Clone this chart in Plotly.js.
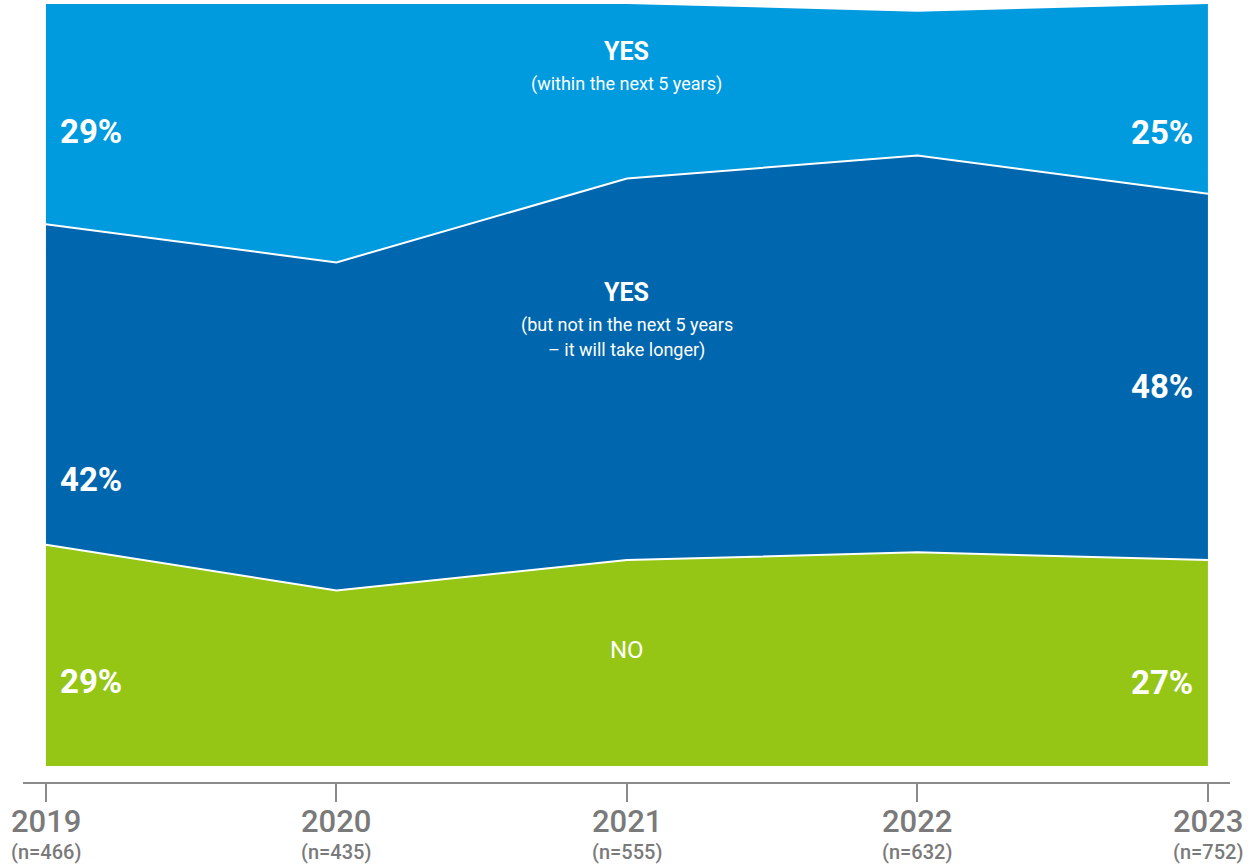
<!DOCTYPE html>
<html>
<head>
<meta charset="utf-8">
<script src="https://cdn.plot.ly/plotly-3.0.1.min.js"></script>
<style>
  html, body { margin: 0; padding: 0; background: #fff; }
  #chart { width: 1253px; height: 864px; }
</style>
</head>
<body>
<div id="chart"></div>
<script>
// ---- data ----
const years = [2019, 2020, 2021, 2022, 2023];
const sampleSizes = ['(n=466)', '(n=435)', '(n=555)', '(n=632)', '(n=752)'];
const noValues = [29, 23, 27, 28, 27];
const yesLaterValues = [42, 43, 50, 52, 48];
const yesSoonValues = [29, 34, 23, 19, 25];

const seriesNames = ['NO', 'YES (but not in the next 5 years – it will take longer)', 'YES (within the next 5 years)'];
const seriesColors = ['#95C616', '#0066AD', '#009ADE'];

// ---- traces ----
const allValues = [noValues, yesLaterValues, yesSoonValues];
const traces = allValues.map((vals, i) => ({
  x: years,
  y: vals,
  name: seriesNames[i],
  type: 'scatter',
  mode: 'lines',
  stackgroup: 'one',
  line: { color: '#ffffff', width: 2, shape: 'linear' },
  fillcolor: seriesColors[i],
  hoverinfo: 'x+y+name'
}));

// ---- annotations ----
const font = 'Roboto, "Open Sans", Arial, sans-serif';
const annotations = [];

// x-axis labels (year + sample size)
years.forEach((yr, i) => {
  annotations.push({ x: yr, y: -0.0513, xref: 'x', yref: 'paper', text: String(yr), showarrow: false,
    font: { family: font, size: 31, color: '#7a7a7a', weight: 500 }, xanchor: 'center', yanchor: 'middle' });
  annotations.push({ x: yr, y: -0.0899, xref: 'x', yref: 'paper', text: sampleSizes[i], showarrow: false,
    font: { family: font, size: 20, color: '#7a7a7a', weight: 500 }, xanchor: 'center', yanchor: 'middle' });
});

// series labels
const white = '#ffffff';
annotations.push({ x: 2021, y: 93.7, xref: 'x', yref: 'y', text: '<b>YES</b>', showarrow: false,
  font: { family: font, size: 25, color: white } });
annotations.push({ x: 2021, y: 89.4, xref: 'x', yref: 'y', text: '(within the next 5 years)', showarrow: false,
  font: { family: font, size: 18, color: white } });
annotations.push({ x: 2021, y: 62.1, xref: 'x', yref: 'y', text: '<b>YES</b>', showarrow: false,
  font: { family: font, size: 25, color: white } });
annotations.push({ x: 2021, y: 57.8, xref: 'x', yref: 'y', text: '(but not in the next 5 years', showarrow: false,
  font: { family: font, size: 18, color: white } });
annotations.push({ x: 2021, y: 54.5, xref: 'x', yref: 'y', text: '– it will take longer)', showarrow: false,
  font: { family: font, size: 18, color: white } });
annotations.push({ x: 2021, y: 15.2, xref: 'x', yref: 'y', text: 'NO', showarrow: false,
  font: { family: font, size: 24, color: white } });

// percentage labels at first and last year
const pctFont = { family: font, size: 33, color: white };
const leftX = 2019.155, rightX = 2022.842;
annotations.push({ x: leftX, y: 83.2, xref: 'x', yref: 'y', text: '<b>' + yesSoonValues[0] + '%</b>', showarrow: false, font: pctFont });
annotations.push({ x: leftX, y: 37.5, xref: 'x', yref: 'y', text: '<b>' + yesLaterValues[0] + '%</b>', showarrow: false, font: pctFont });
annotations.push({ x: leftX, y: 11.1, xref: 'x', yref: 'y', text: '<b>' + noValues[0] + '%</b>', showarrow: false, font: pctFont });
annotations.push({ x: rightX, y: 83.0, xref: 'x', yref: 'y', text: '<b>' + yesSoonValues[4] + '%</b>', showarrow: false, font: pctFont });
annotations.push({ x: rightX, y: 49.7, xref: 'x', yref: 'y', text: '<b>' + yesLaterValues[4] + '%</b>', showarrow: false, font: pctFont });
annotations.push({ x: rightX, y: 10.9, xref: 'x', yref: 'y', text: '<b>' + noValues[4] + '%</b>', showarrow: false, font: pctFont });

const layout = {
  width: 1253,
  height: 864,
  margin: { l: 23, r: 23, t: 3, b: 82, pad: 0 },
  paper_bgcolor: '#ffffff',
  plot_bgcolor: '#ffffff',
  showlegend: false,
  xaxis: {
    range: [2018.921, 2023.076],
    tickvals: years,
    showticklabels: false,
    ticks: 'outside',
    ticklen: 18,
    tickwidth: 2,
    tickcolor: '#8a8a8a',
    showline: true,
    linecolor: '#8a8a8a',
    linewidth: 2,
    showgrid: false,
    zeroline: false,
    fixedrange: true
  },
  yaxis: {
    range: [-2.097, 100],
    visible: false,
    showgrid: false,
    zeroline: false,
    fixedrange: true
  },
  annotations: annotations
};

Plotly.newPlot('chart', traces, layout, { displayModeBar: false, staticPlot: true });
</script>
</body>
</html>
